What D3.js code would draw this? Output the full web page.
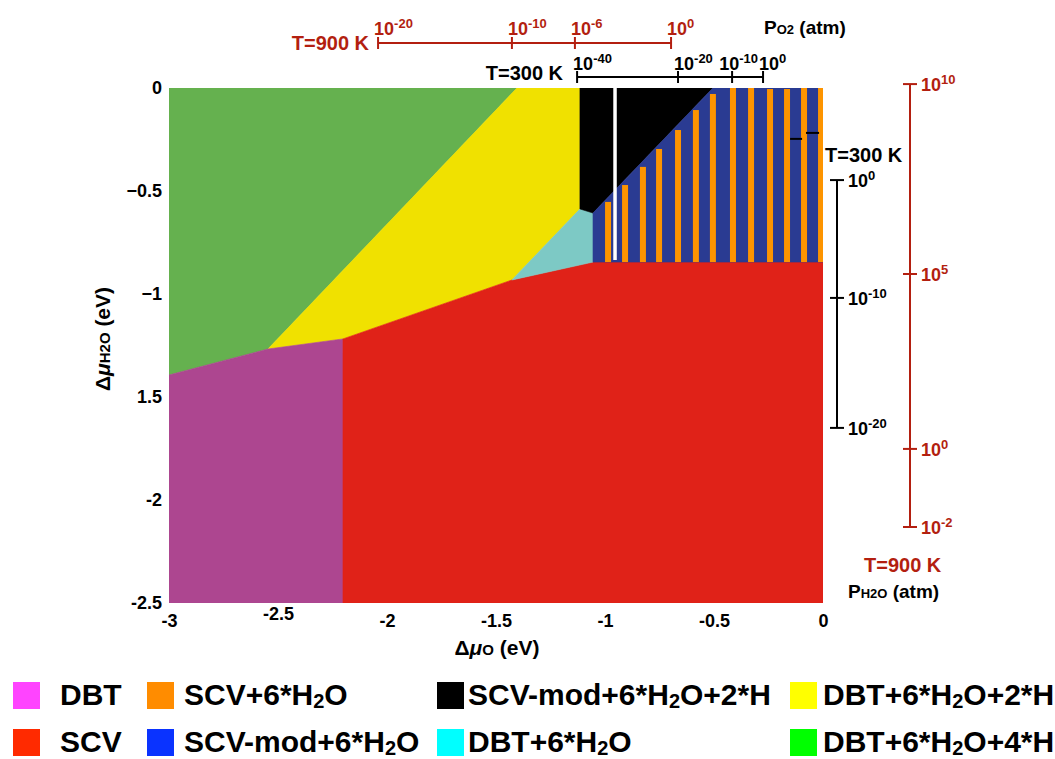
<!DOCTYPE html>
<html>
<head>
<meta charset="utf-8">
<script src="https://cdn.jsdelivr.net/npm/d3@7"></script>
<style>
  body { margin: 0; background: #fff; }
  text { font-family: "Liberation Sans", Arial, Helvetica, sans-serif; font-weight: bold; }
</style>
</head>
<body>
<div id="chart"></div>
<script>
// axis ticks (delta mu, eV)
var xTicks = [-3, -2.5, -2, -1.5, -1, -0.5, 0];
var xTickLabels = ["-3", "-2.5", "-2", "-1.5", "-1", "-0.5", "0"];
var yTicks = [0, -0.5, -1, -1.5, -2, -2.5];
var yTickLabels = ["0", "\u22120.5", "\u22121", "1.5", "-2", "-2.5"];

// phase regions as polygons [delta mu_O, delta mu_H2O]
var greenRegion = [[-3, 0], [-1.404, 0], [-2.546, -1.267], [-3, -1.393]];
var yellowRegion = [[-1.404, 0], [-1.115, 0], [-1.115, -0.587], [-1.427, -0.932], [-2.202, -1.218], [-2.546, -1.267]];
var purpleRegion = [[-3, -1.393], [-2.546, -1.267], [-2.202, -1.218], [-2.202, -2.5], [-3, -2.5]];
var redRegion = [[-2.202, -1.218], [-1.427, -0.932], [-1.055, -0.845], [0, -0.845], [0, -2.5], [-2.202, -2.5]];
var cyanRegion = [[-1.115, -0.587], [-1.055, -0.607], [-1.055, -0.845], [-1.427, -0.932]];
var blackRegion = [[-1.115, 0], [-0.505, 0], [-1.055, -0.607], [-1.115, -0.587]];
var blueRegion = [[-1.055, -0.607], [-0.505, 0], [0, 0], [0, -0.845], [-1.055, -0.845]];

// orange stripes (SCV+6*H2O) over the blue region
var stripeMuO = [-0.986, -0.908, -0.826, -0.752, -0.665, -0.583, -0.505, -0.413, -0.330, -0.243, -0.165, -0.087, -0.009];
var stripeTop = [-0.553, -0.471, -0.383, -0.296, -0.204, -0.107, -0.029, 0, 0, -0.005, -0.005, 0, 0];
var stripeBottom = -0.845;
var whiteLineMuO = -0.954;
var whiteLineBottom = -0.835;

// pressure scales on top (O2) and right (H2O)
var o2Ticks900 = [-2.041, -1.427, -1.138, -0.697];
var o2Exp900 = ["-20", "-10", "-6", "0"];
var o2Ticks300 = [-1.128, -0.665, -0.417, -0.275];
var o2Exp300 = ["-40", "-20", "-10", "0"];
var h2oTicks900 = [0.019, -0.903, -1.752, -2.131];
var h2oExp900 = ["10", "5", "0", "-2"];
var h2oTicks300 = [-0.447, -1.019, -1.650];
var h2oExp300 = ["0", "-10", "-20"];

// stray marks near the right edge
var strayMarks = [[-0.151, -0.096, -0.247], [-0.078, -0.018, -0.218]];

// legend
var legendLabels = ["DBT", "SCV+6*H_2O", "SCV-mod+6*H_2O+2*H", "DBT+6*H_2O+2*H",
                    "SCV", "SCV-mod+6*H_2O", "DBT+6*H_2O", "DBT+6*H_2O+4*H"];
var legendColors = ["#ff44ff", "#ff8c00", "#000000", "#ffff00",
                    "#ff2a00", "#0a33ff", "#00ffff", "#00ff00"];

var svgWidth = 1055, svgHeight = 759;
var darkRed = "#b31f10";

var svg = d3.select("#chart").append("svg")
    .attr("width", svgWidth)
    .attr("height", svgHeight);

var x = d3.scaleLinear().domain([-3, 0]).range([169, 823]);
var y = d3.scaleLinear().domain([0, -2.5]).range([88, 603]);

svg.append("clipPath").attr("id", "plotClip")
  .append("rect")
    .attr("x", x(-3)).attr("y", y(0))
    .attr("width", x(0) - x(-3)).attr("height", y(-2.5) - y(0));

var plot = svg.append("g").attr("clip-path", "url(#plotClip)");
var poly = d3.line().x(d => x(d[0])).y(d => y(d[1]));

var regions = [
  [greenRegion, "#65b14f"], [yellowRegion, "#f0e100"], [purpleRegion, "#ad4690"],
  [redRegion, "#e02218"], [cyanRegion, "#7dc9c5"], [blackRegion, "#000000"], [blueRegion, "#2a3b92"]
];
plot.selectAll("path.region")
    .data(regions)
    .enter()
    .append("path")
    .attr("class", "region")
    .attr("d", d => poly(d[0]) + "Z")
    .attr("fill", d => d[1])
    .attr("stroke", d => d[1])
    .attr("stroke-width", 0.6);

var stripeW = x(0) - x(-0.0275);
plot.selectAll("rect.stripe")
    .data(stripeMuO)
    .enter()
    .append("rect")
    .attr("class", "stripe")
    .attr("x", d => x(d) - stripeW / 2)
    .attr("y", (d, i) => y(stripeTop[i]))
    .attr("width", stripeW)
    .attr("height", (d, i) => y(stripeBottom) - y(stripeTop[i]))
    .attr("fill", "#fd9400");

plot.append("line")
    .attr("x1", x(whiteLineMuO)).attr("x2", x(whiteLineMuO))
    .attr("y1", y(0)).attr("y2", y(whiteLineBottom))
    .attr("stroke", "#fff").attr("stroke-width", 3.5);

svg.selectAll("line.stray")
    .data(strayMarks)
    .enter()
    .append("line")
    .attr("x1", d => x(d[0])).attr("x2", d => x(d[1]))
    .attr("y1", d => y(d[2])).attr("y2", d => y(d[2]))
    .attr("stroke", "#000").attr("stroke-width", 2);

// main axes (labels only)
var xAxis = svg.append("g")
    .attr("transform", `translate(0, ${y(-2.5)})`)
    .call(d3.axisBottom(x).tickValues(xTicks).tickSize(0).tickPadding(11)
      .tickFormat((d, i) => xTickLabels[i]));
xAxis.select(".domain").remove();
xAxis.selectAll("text")
    .attr("font-size", "18px")
    .attr("fill", "#000")
    .attr("y", d => d === -2.5 ? 4 : 11);

var yAxis = svg.append("g")
    .attr("transform", `translate(${x(-3)}, 0)`)
    .call(d3.axisLeft(y).tickValues(yTicks).tickSize(0).tickPadding(7)
      .tickFormat((d, i) => yTickLabels[i]));
yAxis.select(".domain").remove();
yAxis.selectAll("text")
    .attr("font-size", "18px")
    .attr("fill", "#000");

// axis titles
var xTitle = svg.append("text")
    .attr("x", 497).attr("y", 655)
    .attr("text-anchor", "middle")
    .attr("font-size", "21px");
xTitle.append("tspan").text("\u0394");
xTitle.append("tspan").attr("font-style", "italic").text("\u03bc");
xTitle.append("tspan").attr("font-size", "15px").text("O");
xTitle.append("tspan").text(" (eV)");

var yTitle = svg.append("text")
    .attr("transform", "translate(110, 339) rotate(-90)")
    .attr("text-anchor", "middle")
    .attr("font-size", "21px");
yTitle.append("tspan").text("\u0394");
yTitle.append("tspan").attr("font-style", "italic").text("\u03bc");
yTitle.append("tspan").attr("font-size", "15px").text("H2O");
yTitle.append("tspan").text(" (eV)");

// power-of-ten label helper
function powLabel(g, px, py, exp, color, anchor) {
  var t = g.append("text")
      .attr("x", px).attr("y", py)
      .attr("fill", color)
      .attr("font-size", "18px")
      .attr("text-anchor", anchor || "start");
  t.append("tspan").text("10");
  t.append("tspan").attr("font-size", "13px").attr("dy", -7).text(exp);
  return t;
}

// top O2 pressure scales
function topScale(ticks, exps, lineY, labelY, color) {
  var g = svg.append("g");
  g.append("line")
      .attr("x1", x(ticks[0])).attr("x2", x(ticks[ticks.length - 1]))
      .attr("y1", lineY).attr("y2", lineY)
      .attr("stroke", color).attr("stroke-width", 2);
  g.selectAll("line.tick")
      .data(ticks)
      .enter()
      .append("line")
      .attr("x1", d => x(d)).attr("x2", d => x(d))
      .attr("y1", lineY - 6).attr("y2", lineY + 6)
      .attr("stroke", color).attr("stroke-width", 2);
  // place labels right to left, nudging left when they collide
  var nextLeft = Infinity;
  for (var i = ticks.length - 1; i >= 0; i--) {
    var t = powLabel(g, x(ticks[i]) - 4, labelY, exps[i], color);
    var w = t.node().getComputedTextLength();
    var left = x(ticks[i]) - 4;
    if (left + w > nextLeft - 1) {
      left = nextLeft - 1 - w;
      t.attr("x", left);
    }
    nextLeft = left;
  }
  return g;
}
topScale(o2Ticks900, o2Exp900, 43, 35, darkRed);
topScale(o2Ticks300, o2Exp300, 77, 70, "#000");

svg.append("text").attr("x", 369).attr("y", 50).attr("text-anchor", "end")
    .attr("font-size", "20px").attr("fill", darkRed).text("T=900 K");
svg.append("text").attr("x", 563).attr("y", 80).attr("text-anchor", "end")
    .attr("font-size", "20px").attr("fill", "#000").text("T=300 K");

var po2 = svg.append("text").attr("x", 764).attr("y", 34).attr("font-size", "19px");
po2.append("tspan").text("P");
po2.append("tspan").attr("font-size", "13px").text("O2");
po2.append("tspan").text(" (atm)");

// right H2O pressure scales
function rightScale(ticks, exps, lineX, color) {
  var g = svg.append("g");
  g.append("line")
      .attr("x1", lineX).attr("x2", lineX)
      .attr("y1", y(ticks[0])).attr("y2", y(ticks[ticks.length - 1]))
      .attr("stroke", color).attr("stroke-width", 2);
  g.selectAll("line.tick")
      .data(ticks)
      .enter()
      .append("line")
      .attr("x1", lineX - 7).attr("x2", lineX + 7)
      .attr("y1", d => y(d)).attr("y2", d => y(d))
      .attr("stroke", color).attr("stroke-width", 2);
  ticks.forEach(function(d, i) {
    powLabel(g, lineX + 11, y(d) + 7, exps[i], color);
  });
}
rightScale(h2oTicks300, h2oExp300, 837, "#000");
rightScale(h2oTicks900, h2oExp900, 910, darkRed);

svg.append("text").attr("x", 825).attr("y", 162)
    .attr("font-size", "20px").attr("fill", "#000").text("T=300 K");
svg.append("text").attr("x", 864).attr("y", 572)
    .attr("font-size", "20px").attr("fill", darkRed).text("T=900 K");
var ph2o = svg.append("text").attr("x", 848).attr("y", 598).attr("font-size", "19px");
ph2o.append("tspan").text("P");
ph2o.append("tspan").attr("font-size", "13px").text("H2O");
ph2o.append("tspan").text(" (atm)");

// legend: 2 rows x 4 columns
var colSquareX = [13, 147, 437, 790];
var colTextX = [60, 184, 468, 823];
var rowTop = [682, 729];
var legend = svg.append("g");
legendLabels.forEach(function(label, i) {
  var col = i % 4, row = Math.floor(i / 4);
  legend.append("rect")
      .attr("x", colSquareX[col]).attr("y", rowTop[row])
      .attr("width", 27).attr("height", 27)
      .attr("fill", legendColors[i]);
  var t = legend.append("text")
      .attr("x", colTextX[col]).attr("y", rowTop[row] + 23)
      .attr("font-size", "30px");
  label.split(/(_2)/).forEach(function(part) {
    if (part === "_2") {
      t.append("tspan").attr("font-size", "20px").attr("dy", 3).text("2");
    } else if (part.length) {
      var s = t.append("tspan").text(part);
      if (t.selectAll("tspan").size() > 1) s.attr("dy", -3);
    }
  });
});
</script>
</body>
</html>
